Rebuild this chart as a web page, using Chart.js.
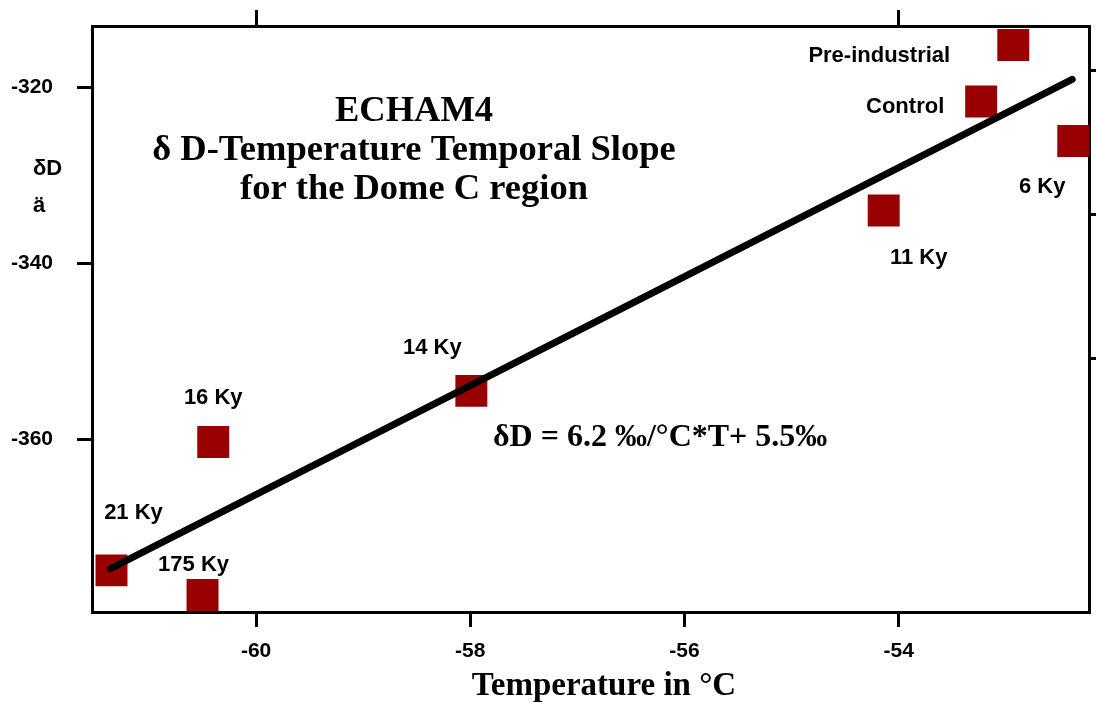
<!DOCTYPE html>
<html><head><meta charset="utf-8">
<script src="https://cdn.jsdelivr.net/npm/chart.js@4.4.1/dist/chart.umd.min.js"></script>
<style>html,body{margin:0;padding:0;background:#fff;overflow:hidden;} #wrap{width:1096px;height:704px;} canvas{display:block;}</style>
</head><body><div id="wrap"><canvas id="c" width="1096" height="704"></canvas></div>
<script>
const periods = ['21 Ky','175 Ky','16 Ky','14 Ky','11 Ky','Control','Pre-industrial','6 Ky'];
const temperature = [-61.35,-60.50,-60.40,-57.99,-54.14,-53.23,-52.93,-52.37];
const deltaD = [-374.9,-377.7,-360.3,-354.5,-334.0,-321.6,-315.2,-326.1];
const fitT = [-61.36,-52.38];
const fitD = [-374.7,-319.1];
const xTickValues = [-60,-58,-56,-54];
const yTickValues = [-360,-340,-320];
const topTickValues = [-60,-54];
const rightTickValues = [1,2,3];
const titleLines = ['ECHAM4','δ D-Temperature Temporal Slope','for the Dome C region'];
const equationText = 'δD = 6.2 ‰/°C*T+ 5.5‰';
const xTitle = 'Temperature in °C';
const yTitleLines = ['δD','ä'];
const labelOffsets = [[22,-57],[-9,-30],[0,-44],[-39,-43],[35,47],[-76,6],[-134,11],[-31,46]];

const SANS = '"Liberation Sans", Arial, sans-serif';
const SERIF = '"Liberation Serif", "Times New Roman", serif';
const tickFont = {family: SANS, size: 21, weight: 'bold'};

const textPlugin = {
  id: 'texts',
  afterDatasetsDraw(chart) {
    const c = chart.ctx, xs = chart.scales.x, ys = chart.scales.y;
    c.save();
    c.fillStyle = '#000';
    c.font = 'bold 22px ' + SANS; c.textAlign = 'center'; c.textBaseline = 'middle';
    periods.forEach((p, i) => {
      const px = xs.getPixelForValue(temperature[i]), py = ys.getPixelForValue(deltaD[i]);
      c.fillText(p, px + labelOffsets[i][0], py + labelOffsets[i][1]);
    });
    c.textBaseline = 'alphabetic';
    c.font = 'bold 36.5px ' + SERIF;
    titleLines.forEach((t, i) => c.fillText(t, 414, 121 + i * 39));
    c.textAlign = 'left'; c.font = 'bold 32px ' + SERIF;
    c.fillText(equationText, 493, 446);
    c.textAlign = 'center'; c.font = 'bold 33px ' + SERIF;
    c.fillText(xTitle, 604, 695);
    c.textAlign = 'left'; c.font = 'bold 22px ' + SANS;
    c.fillText(yTitleLines[0], 33, 175);
    c.fillText(yTitleLines[1], 33, 212);
    c.restore();
  }
};

function axisLine(len) {
  return {display: true, drawOnChartArea: false, drawTicks: true, tickLength: len, color: '#000', lineWidth: 3};
}
const border = {display: true, color: '#000', width: 3};
function fixSize(prop, val) {
  return s => { s[prop] = val; s.paddingTop = 0; s.paddingBottom = 0; s.paddingLeft = 0; s.paddingRight = 0; };
}

new Chart(document.getElementById('c'), {
  type: 'scatter',
  data: {
    datasets: [
      {type: 'line', data: fitT.map((t, i) => ({x: t, y: fitD[i]})), borderColor: '#000', borderWidth: 7,
       borderCapStyle: 'round', pointRadius: 0, fill: false, order: 0, clip: false},
      {data: temperature.map((t, i) => ({x: t, y: deltaD[i]})), pointStyle: 'rect', pointRadius: 22.6,
       backgroundColor: '#990000', borderWidth: 0, order: 1, clip: false}
    ]
  },
  options: {
    responsive: false, animation: false,
    layout: {padding: 0, autoPadding: false},
    plugins: {legend: {display: false}, tooltip: {enabled: false}},
    scales: {
      x: {type: 'linear', position: 'bottom', min: -61.532, max: -52.223,
          afterBuildTicks: s => { s.ticks = xTickValues.map(v => ({value: v})); },
          afterFit: fixSize('height', 92),
          grid: axisLine(15), border: border,
          ticks: {font: tickFont, color: '#000', padding: 12, maxRotation: 0, callback: v => String(v)}},
      x2: {type: 'linear', position: 'top', min: -61.532, max: -52.223,
          afterBuildTicks: s => { s.ticks = topTickValues.map(v => ({value: v})); },
          afterFit: fixSize('height', 26),
          grid: axisLine(16), border: border, ticks: {display: false}},
      y: {type: 'linear', position: 'left', min: -379.63, max: -313.03,
          afterBuildTicks: s => { s.ticks = yTickValues.map(v => ({value: v})); },
          afterFit: fixSize('width', 92),
          grid: axisLine(15), border: border,
          ticks: {font: tickFont, color: '#000', padding: 24, callback: v => String(v)}},
      y2: {type: 'linear', position: 'right', min: -0.764, max: 3.311,
          afterBuildTicks: s => { s.ticks = rightTickValues.map(v => ({value: v})); },
          afterFit: fixSize('width', 7),
          grid: axisLine(7), border: border, ticks: {display: false}}
    }
  },
  plugins: [textPlugin]
});
</script>
</body></html>
